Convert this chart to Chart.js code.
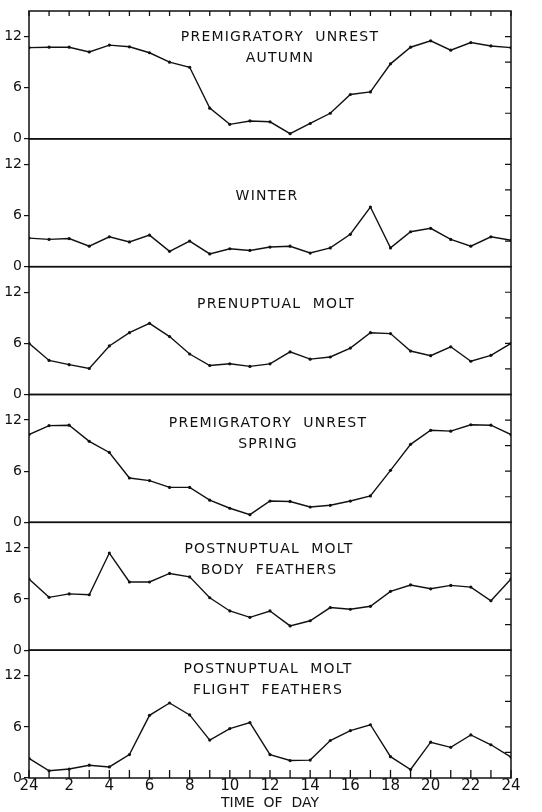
<!DOCTYPE html>
<html>
<head>
<meta charset="utf-8">
<script src="https://cdn.jsdelivr.net/npm/chart.js@4/dist/chart.umd.min.js"></script>
<style>
  html, body { margin: 0; padding: 0; background: #fff; }
  #wrap { position: relative; width: 542px; height: 812px; }
</style>
</head>
<body>
<div id="wrap"><canvas id="chart"></canvas></div>
<script>
// ----------- Data -----------
const hours = [0, 1, 2, 3, 4, 5, 6, 7, 8, 9, 10, 11, 12, 13, 14, 15, 16, 17, 18, 19, 20, 21, 22, 23, 24];

const autumn = [10.7, 10.75, 10.75, 10.2, 11.0, 10.8, 10.1, 9.0, 8.4, 3.6, 1.7, 2.1, 2.0, 0.6, 1.8, 3.0, 5.2, 5.5, 8.8, 10.75, 11.5, 10.4, 11.3, 10.9, 10.7];
const winter = [3.35, 3.2, 3.3, 2.4, 3.5, 2.9, 3.7, 1.8, 3.0, 1.5, 2.1, 1.9, 2.3, 2.4, 1.6, 2.2, 3.8, 7.0, 2.2, 4.1, 4.5, 3.2, 2.4, 3.5, 3.1];
const prenuptual = [6.0, 4.0, 3.5, 3.05, 5.7, 7.25, 8.35, 6.8, 4.75, 3.4, 3.6, 3.3, 3.6, 5.0, 4.15, 4.4, 5.45, 7.25, 7.15, 5.1, 4.55, 5.6, 3.9, 4.6, 6.0];
const spring = [10.3, 11.35, 11.4, 9.5, 8.2, 5.2, 4.9, 4.1, 4.1, 2.6, 1.65, 0.9, 2.5, 2.45, 1.8, 2.0, 2.5, 3.1, 6.1, 9.15, 10.8, 10.7, 11.45, 11.4, 10.3];
const bodyFeathers = [8.35, 6.2, 6.6, 6.5, 11.4, 8.0, 8.0, 9.0, 8.6, 6.15, 4.6, 3.85, 4.6, 2.85, 3.45, 5.0, 4.8, 5.15, 6.9, 7.65, 7.2, 7.6, 7.4, 5.8, 8.35];
const flightFeathers = [2.3, 0.85, 1.05, 1.5, 1.3, 2.75, 7.35, 8.8, 7.4, 4.45, 5.8, 6.5, 2.75, 2.05, 2.1, 4.4, 5.55, 6.25, 2.5, 1.0, 4.2, 3.6, 5.05, 3.9, 2.45];

const panelSeries = [autumn, winter, prenuptual, spring, bodyFeathers, flightFeathers];
const panelTitles = [
  ['PREMIGRATORY  UNREST', 'AUTUMN'],
  ['WINTER'],
  ['PRENUPTUAL  MOLT'],
  ['PREMIGRATORY  UNREST', 'SPRING'],
  ['POSTNUPTUAL  MOLT', 'BODY  FEATHERS'],
  ['POSTNUPTUAL  MOLT', 'FLIGHT  FEATHERS']
];
const yTicks = [0, 3, 6, 9, 12];
const xTitle = 'TIME  OF  DAY';

// title placement (offset from panel top, centre x)
const titleTop = [26, 58, 38, 29, 27, 19];
const titleX = [280, 267, 276, 268, 269, 268];

const INK = '#111';
const FONT = "'DejaVu Sans', sans-serif";

// ----------- Scales -----------
const scales = {
  x: {
    type: 'linear',
    min: 0,
    max: 24,
    afterBuildTicks: s => { s.ticks = hours.map(h => ({ value: h })); },
    grid: { display: false, drawTicks: false },
    border: { display: false },
    ticks: {
      autoSkip: false,
      maxRotation: 0,
      padding: -1,
      color: INK,
      font: { family: FONT, size: 15 },
      callback: v => (v % 2 === 0 ? (v === 0 ? '24' : String(v)) : '')
    },
    title: {
      display: true,
      text: xTitle,
      color: INK,
      padding: { top: -2, bottom: 0 },
      font: { family: FONT, size: 14 }
    },
    afterFit: s => { s.height = 34; }
  }
};

panelSeries.forEach((_, i) => {
  scales['y' + i] = {
    type: 'linear',
    position: 'left',
    stack: 'panels',
    stackWeight: 1,
    weight: 10 - i,
    min: 0,
    max: 15,
    afterBuildTicks: s => { s.ticks = yTicks.map(v => ({ value: v })); },
    grid: { drawOnChartArea: false, tickLength: 5, color: INK, lineWidth: 1.2 },
    border: { display: false },
    ticks: {
      padding: 2,
      color: INK,
      font: { family: FONT, size: 14 },
      callback: v => (v % 6 === 0 ? String(v) : '')
    },
    afterFit: s => { s.width = 29; }
  };
});

const datasets = panelSeries.map((series, i) => ({
  label: panelTitles[i].join(' '),
  data: series.map((v, k) => ({ x: hours[k], y: v })),
  yAxisID: 'y' + i,
  borderColor: INK,
  borderWidth: 1.4,
  pointRadius: 1.6,
  pointBackgroundColor: INK,
  pointBorderWidth: 0,
  tension: 0
}));

// ----------- Frame, inner ticks and panel titles -----------
const framePlugin = {
  id: 'frame',
  afterDraw(chart) {
    const { ctx, chartArea } = chart;
    const xs = chart.scales.x;
    const left = chartArea.left, right = chartArea.right;
    ctx.save();
    ctx.strokeStyle = INK;
    ctx.fillStyle = INK;

    panelSeries.forEach((_, i) => {
      const s = chart.scales['y' + i];
      ctx.lineWidth = 1.5;
      ctx.strokeRect(left, s.top, right - left, s.bottom - s.top);

      // right-hand inward ticks
      ctx.lineWidth = 1.2;
      ctx.beginPath();
      yTicks.slice(1).forEach(v => {
        const py = s.getPixelForValue(v);
        ctx.moveTo(right, py);
        ctx.lineTo(right - 6, py);
      });
      ctx.stroke();

      // titles
      ctx.font = '14px ' + FONT;
      ctx.letterSpacing = '1.2px';
      ctx.textAlign = 'center';
      ctx.textBaseline = 'middle';
      panelTitles[i].forEach((line, k) => {
        ctx.fillText(line, titleX[i], s.top + titleTop[i] + k * 21);
      });
      ctx.letterSpacing = '0px';
    });

    // hour ticks on top of the first panel and on the time axis
    const topScale = chart.scales.y0;
    const botScale = chart.scales['y' + (panelSeries.length - 1)];
    ctx.lineWidth = 1.3;
    ctx.beginPath();
    hours.forEach(h => {
      const px = xs.getPixelForValue(h);
      ctx.moveTo(px, topScale.top);
      ctx.lineTo(px, topScale.top + 5);
      ctx.moveTo(px, botScale.bottom);
      ctx.lineTo(px, botScale.bottom - 8);
    });
    ctx.stroke();
    ctx.restore();
  }
};

new Chart(document.getElementById('chart'), {
  type: 'line',
  data: { datasets },
  options: {
    responsive: true,
    maintainAspectRatio: false,
    animation: false,
    layout: { padding: { top: 11, right: 31, left: 0, bottom: 0 } },
    plugins: {
      legend: { display: false },
      tooltip: { enabled: false }
    },
    scales
  },
  plugins: [framePlugin]
});
</script>
</body>
</html>
